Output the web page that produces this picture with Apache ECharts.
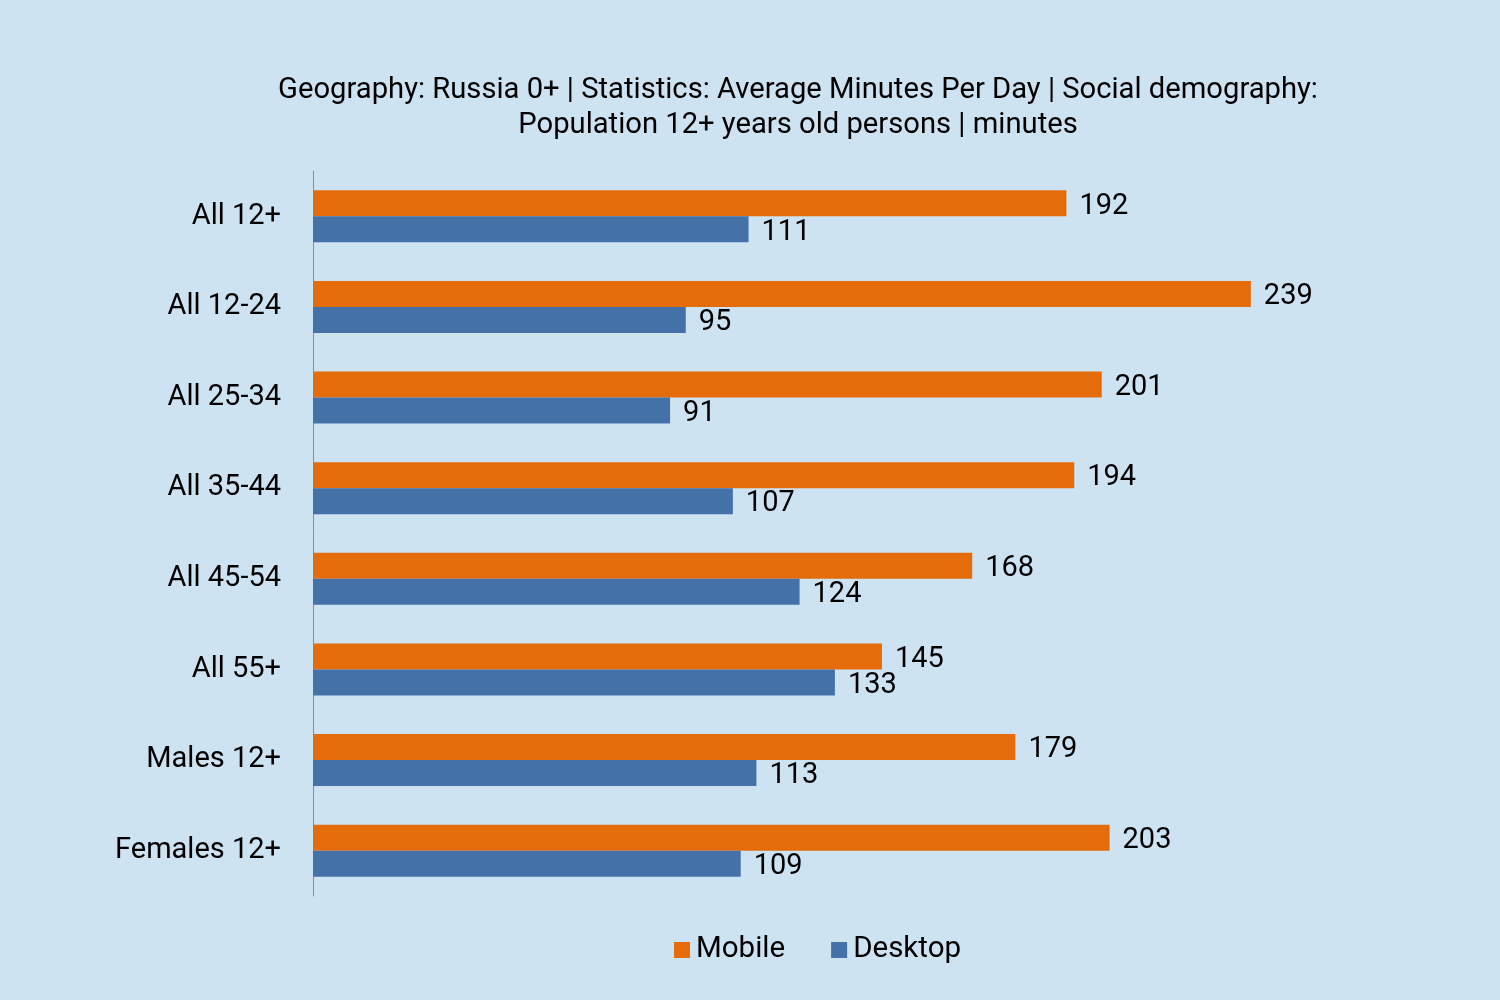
<!DOCTYPE html>
<html>
<head>
<meta charset="utf-8">
<script src="https://cdn.jsdelivr.net/npm/echarts@6/dist/echarts.min.js"></script>
<style>html,body{margin:0;padding:0;background:#CDE3F1;}#c{width:1500px;height:1000px;}</style>
</head>
<body>
<div id="c"></div>
<script>
const categories = ['All 12+', 'All 12-24', 'All 25-34', 'All 35-44', 'All 45-54', 'All 55+', 'Males 12+', 'Females 12+'];
const mobile = [192, 239, 201, 194, 168, 145, 179, 203];
const desktop = [111, 95, 91, 107, 124, 133, 113, 109];
const seriesNames = ['Mobile', 'Desktop'];
const titleText = 'Geography: Russia 0+ | Statistics: Average Minutes Per Day | Social demography:\nPopulation 12+ years old persons | minutes';

const chart = echarts.init(document.getElementById('c'));
const font = 'Roboto';
chart.setOption({
  backgroundColor: '#CDE3F1',
  animation: false,
  title: {
    text: titleText,
    left: 798,
    top: 73,
    padding: 0,
    textAlign: 'center',
    textStyle: { fontFamily: font, fontSize: 29.2, fontWeight: 'normal', color: '#000', lineHeight: 35 }
  },
  legend: {
    data: seriesNames,
    left: 669,
    top: 930,
    itemWidth: 16,
    itemHeight: 16,
    itemGap: 46,
    icon: 'rect',
    textStyle: { fontFamily: font, fontSize: 29.5, color: '#000', padding: [0, 0, 0, 1] }
  },
  grid: { left: 313, right: 206, top: 171, bottom: 104 },
  xAxis: {
    type: 'value', min: 0, max: 250, show: false
  },
  yAxis: {
    type: 'category', data: categories, inverse: true,
    axisLine: { lineStyle: { color: '#8C8C8C', width: 1 } },
    axisTick: { show: false },
    axisLabel: { fontFamily: font, fontSize: 29, color: '#000', margin: 32 }
  },
  series: [
    {
      name: seriesNames[0], type: 'bar', data: mobile, barWidth: 26, barGap: '0%',
      itemStyle: { color: '#E46C0A' },
      label: { show: true, position: 'right', distance: 13, offset: [0, 3], fontFamily: font, fontSize: 29, color: '#000' }
    },
    {
      name: seriesNames[1], type: 'bar', data: desktop, barWidth: 26, barGap: '0%',
      itemStyle: { color: '#4472A8' },
      label: { show: true, position: 'right', distance: 13, offset: [0, 3], fontFamily: font, fontSize: 29, color: '#000' }
    }
  ]
});
</script>
</body>
</html>
